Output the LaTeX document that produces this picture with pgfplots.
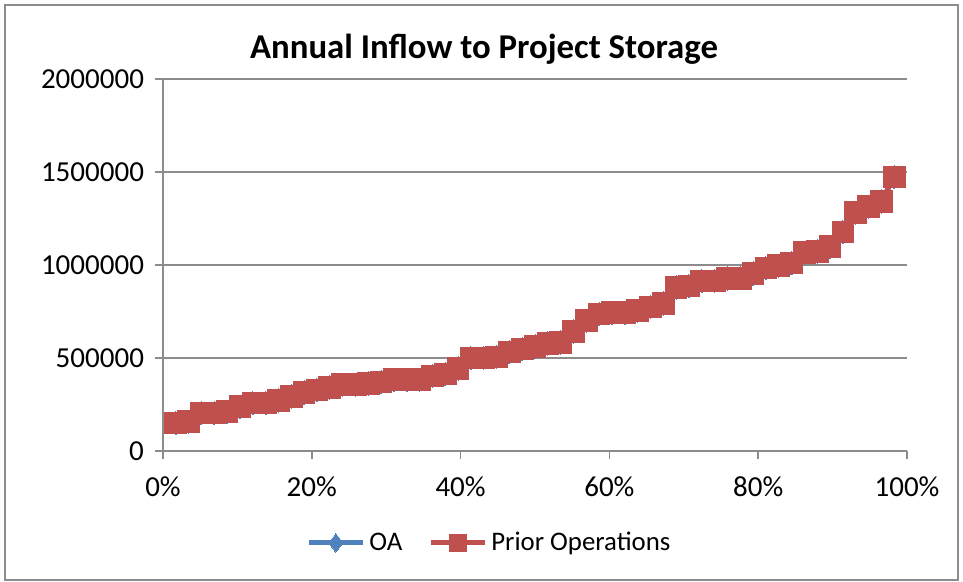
\documentclass[border=0pt]{standalone}
\usepackage{fontspec}
\setmainfont{Carlito}
\usepackage{pgfplots}
\usepackage{pgfplotstable}
\pgfplotsset{compat=1.18}

\definecolor{oablue}{HTML}{4F81BD}
\definecolor{priorred}{HTML}{C0504D}
\definecolor{gridgray}{HTML}{8C8C8C}

% exceedance position (percent) vs annual inflow
\pgfplotstableread{
x      y
1.72   150000
3.45   157000
5.17   204000
6.90   204000
8.62   211000
10.34  238000
12.07  257000
13.79  257000
15.52  271000
17.24  293000
18.97  314000
20.69  327000
22.41  341000
24.14  356000
25.86  356000
27.59  363000
29.31  372000
31.03  383000
32.76  383000
34.48  383000
36.21  404000
37.93  413000
39.66  444000
41.38  501000
43.10  501000
44.83  506000
46.55  533000
48.28  548000
50.00  562000
51.72  578000
53.45  583000
55.17  642000
56.90  700000
58.62  736000
60.34  743000
62.07  743000
63.79  754000
65.52  775000
67.24  793000
68.97  879000
70.69  888000
72.41  915000
74.14  915000
75.86  927000
77.59  929000
79.31  954000
81.03  983000
82.76  996000
84.48  1010000
86.21  1066000
87.93  1073000
89.66  1098000
91.38  1178000
93.10  1281000
94.83  1313000
96.55  1341000
98.28  1474000
}\inflow

\begin{document}
\begin{tikzpicture}
\path[use as bounding box] (0pt,0pt) rectangle (481.5pt,291pt);
\draw[draw=gridgray, line width=1pt] (2.5pt,1pt) rectangle (479pt,288.5pt);
\node[font=\bfseries\fontsize{17.4}{20}\selectfont] at (242pt,266.5pt) {Annual Inflow to Project Storage};
\begin{axis}[
  at={(81.5pt,65.5pt)}, anchor=south west,
  scale only axis,
  width=372pt, height=186pt,
  xmin=0, xmax=100,
  ymin=0, ymax=2000000,
  xtick={0,20,...,100},
  ytick={0,500000,...,2000000},
  xticklabel={\pgfmathprintnumber{\tick}\%},
  scaled y ticks=false,
  /pgf/number format/assume math mode=true,
  yticklabel style={/pgf/number format/fixed, /pgf/number format/1000 sep={}, xshift=-2pt},
  xticklabel style={yshift=-5.5pt},
  tick label style={font=\fontsize{14.5}{16}\selectfont},
  axis x line*=bottom,
  axis y line*=left,
  axis line style={draw=gridgray, line width=0.75pt},
  tick style={draw=gridgray, line width=0.75pt},
  tick align=outside,
  major tick length=4pt,
  ymajorgrids,
  major grid style={draw=gridgray, line width=0.75pt},
  legend style={at={(0.44,-0.247)}, anchor=center, draw=none, fill=none,
    legend columns=2, font=\fontsize{13.4}{15}\selectfont,
    /tikz/every even column/.append style={column sep=11pt}},
  legend cell align=left,
  legend image code/.code={
    \draw[mark repeat=2, mark phase=2, #1, every mark/.append style={scale=0.8}]
      plot coordinates {(0pt,0pt) (13.5pt,0pt) (27pt,0pt)};
  },
]
\addplot[color=oablue, line width=2.5pt, mark=diamond*, mark size=5.8pt,
  mark options={fill=oablue, draw=oablue, line width=0pt}] table {\inflow};
\addlegendentry{OA}
\addplot[color=priorred, line width=2.5pt, mark=square*, mark size=5.4pt,
  mark options={fill=priorred, draw=priorred, line width=0pt}] table {\inflow};
\addlegendentry{Prior Operations}
\end{axis}
\end{tikzpicture}
\end{document}
